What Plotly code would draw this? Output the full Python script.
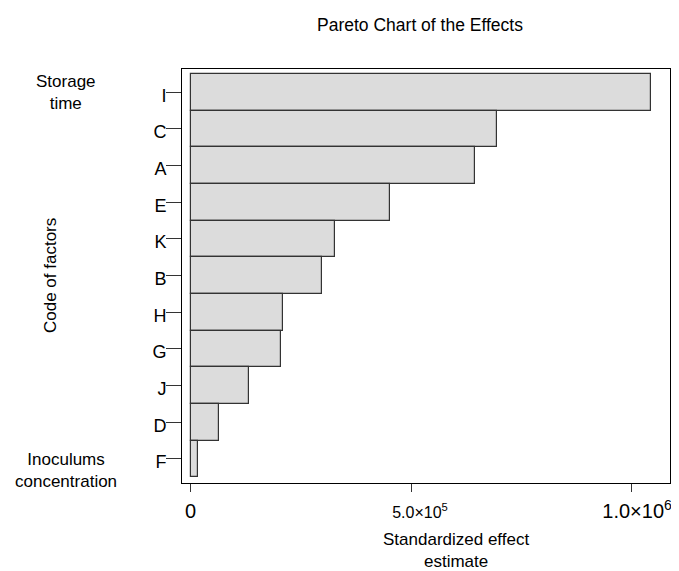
import plotly.graph_objects as go

factors = ["I", "C", "A", "E", "K", "B", "H", "G", "J", "D", "F"]
effects = [1.045e6, 0.694e6, 0.644e6, 0.451e6, 0.327e6, 0.298e6, 0.210e6, 0.205e6, 0.133e6, 0.064e6, 0.016e6]
x_tickvals = [0, 5e5, 1e6]
NB = "\u00a0"
x_ticktext = ["0",
              "<span style='font-size:16px'>" + NB * 4 + "5.0×10<sup>5</sup></span>",
              NB * 2 + "1.0×10<sup>6</sup>"]

FONT = "Liberation Sans, Arial, sans-serif"
W, H = 671, 563

fig = go.Figure(go.Bar(
    x=effects, y=factors, orientation="h",
    marker=dict(color="#dcdcdc", line=dict(color="#333333", width=1.2)),
    width=1.0,
))

fig.update_layout(
    width=W, height=H,
    margin=dict(l=174, r=9, t=61, b=88),
    plot_bgcolor="white", paper_bgcolor="white",
    font=dict(family=FONT, color="black"),
    showlegend=False,
    bargap=0,
    title=dict(text="Pareto Chart of the Effects", x=(420 - 182) / 488, xref="paper",
               xanchor="center", y=1 - 17 / H, yref="container", yanchor="middle",
               font=dict(size=17.5, family=FONT, color="black")),
    xaxis=dict(range=[-0.0197e6, 1.0873e6], tickvals=x_tickvals, ticktext=x_ticktext,
               ticks="outside", ticklen=8, tickcolor="#333", tickwidth=1,
               showgrid=False, zeroline=False, showline=True, linecolor="black",
               linewidth=1, mirror=True, tickfont=dict(size=20, family=FONT),
               ticklabelstandoff=2, automargin=False),
    yaxis=dict(categoryorder="array", categoryarray=factors[::-1],
               range=[-0.658, 10.636], ticks="outside", ticklen=15, tickcolor="#333",
               tickwidth=1, showgrid=False, zeroline=False, showline=True,
               linecolor="black", linewidth=1, mirror=True,
               tickfont=dict(size=18, family=FONT), ticklabelshift=3,
               ticklabelstandoff=-4, automargin=False),
)

fig.add_annotation(text="Standardized effect<br>estimate", xref="paper", yref="paper",
                   x=(456 - 182) / 488, y=-0.162, xanchor="center", yanchor="middle",
                   showarrow=False, font=dict(size=17, family=FONT))
fig.add_annotation(text="Code of factors", xref="paper", yref="paper",
                   x=(50 - 182) / 488, y=0.5, xanchor="center", yanchor="middle",
                   textangle=-90, showarrow=False, font=dict(size=17, family=FONT))
fig.add_annotation(text="Storage<br>time", xref="paper", yref="y", x=(66 - 182) / 488,
                   y="I", yshift=0, xanchor="center", yanchor="middle", showarrow=False,
                   font=dict(size=17, family=FONT))
fig.add_annotation(text="Inoculums<br>concentration", xref="paper", yref="y",
                   x=(66 - 182) / 488, y="F", yshift=-12, xanchor="center",
                   yanchor="middle", showarrow=False, font=dict(size=17, family=FONT))

fig.write_html("out.html")
